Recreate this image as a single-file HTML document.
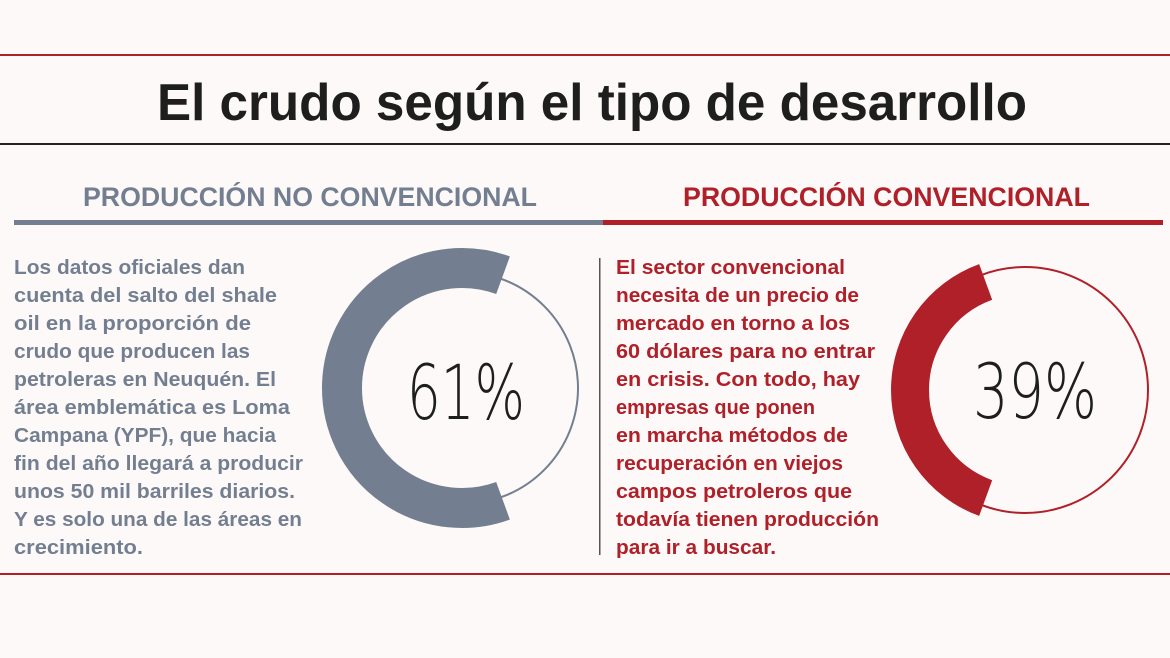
<!DOCTYPE html>
<html><head><meta charset="utf-8"><style>
html,body{margin:0;padding:0;background:#fcf9f8}
svg{display:block}
.b{font-family:"Liberation Sans",sans-serif;font-weight:bold;font-size:20px}
.g{fill:#737f90}.r{fill:#b02029}
</style></head><body>
<svg width="1170" height="658" viewBox="0 0 1170 658" xmlns="http://www.w3.org/2000/svg">
<rect width="1170" height="658" fill="#fcf9f8"/>
<rect x="0" y="54" width="1170" height="2" fill="#b02029"/>
<text x="157" y="120" font-family="Liberation Sans,sans-serif" font-weight="bold" font-size="52" fill="#1e1e1e" textLength="870" lengthAdjust="spacingAndGlyphs">El crudo según el tipo de desarrollo</text>
<rect x="0" y="143" width="1170" height="2" fill="#222"/>
<text x="83" y="206" font-family="Liberation Sans,sans-serif" font-weight="bold" font-size="27" fill="#737f90" textLength="454" lengthAdjust="spacingAndGlyphs">PRODUCCIÓN NO CONVENCIONAL</text>
<text x="683" y="206" font-family="Liberation Sans,sans-serif" font-weight="bold" font-size="27" fill="#b02029" textLength="407" lengthAdjust="spacingAndGlyphs">PRODUCCIÓN CONVENCIONAL</text>
<rect x="14" y="220" width="589" height="5" fill="#737f90"/>
<rect x="603" y="220" width="560" height="5" fill="#b02029"/>
<rect x="0" y="573" width="1170" height="2" fill="#b02029"/>
<rect x="599" y="258" width="1.5" height="297" fill="#555"/>
<g class="b g">
<text x="14" y="274" textLength="231" lengthAdjust="spacingAndGlyphs">Los datos oficiales dan</text>
<text x="14" y="302" textLength="263" lengthAdjust="spacingAndGlyphs">cuenta del salto del shale</text>
<text x="14" y="330" textLength="237" lengthAdjust="spacingAndGlyphs">oil en la proporción de</text>
<text x="14" y="358" textLength="236" lengthAdjust="spacingAndGlyphs">crudo que producen las</text>
<text x="14" y="386" textLength="262" lengthAdjust="spacingAndGlyphs">petroleras en Neuquén. El</text>
<text x="14" y="414" textLength="276" lengthAdjust="spacingAndGlyphs">área emblemática es Loma</text>
<text x="14" y="442" textLength="262" lengthAdjust="spacingAndGlyphs">Campana (YPF), que hacia</text>
<text x="14" y="470" textLength="289" lengthAdjust="spacingAndGlyphs">fin del año llegará a producir</text>
<text x="14" y="498" textLength="281" lengthAdjust="spacingAndGlyphs">unos 50 mil barriles diarios.</text>
<text x="14" y="526" textLength="288" lengthAdjust="spacingAndGlyphs">Y es solo una de las áreas en</text>
<text x="14" y="554" textLength="129" lengthAdjust="spacingAndGlyphs">crecimiento.</text>
</g>
<g class="b r">
<text x="616" y="274" textLength="229" lengthAdjust="spacingAndGlyphs">El sector convencional</text>
<text x="616" y="302" textLength="243" lengthAdjust="spacingAndGlyphs">necesita de un precio de</text>
<text x="616" y="330" textLength="234" lengthAdjust="spacingAndGlyphs">mercado en torno a los</text>
<text x="616" y="358" textLength="259" lengthAdjust="spacingAndGlyphs">60 dólares para no entrar</text>
<text x="616" y="386" textLength="244" lengthAdjust="spacingAndGlyphs">en crisis. Con todo, hay</text>
<text x="616" y="414" textLength="199" lengthAdjust="spacingAndGlyphs">empresas que ponen</text>
<text x="616" y="442" textLength="232" lengthAdjust="spacingAndGlyphs">en marcha métodos de</text>
<text x="616" y="470" textLength="227" lengthAdjust="spacingAndGlyphs">recuperación en viejos</text>
<text x="616" y="498" textLength="236" lengthAdjust="spacingAndGlyphs">campos petroleros que</text>
<text x="616" y="526" textLength="263" lengthAdjust="spacingAndGlyphs">todavía tienen producción</text>
<text x="616" y="554" textLength="160" lengthAdjust="spacingAndGlyphs">para ir a buscar.</text>
</g>
<circle cx="462" cy="388" r="116" fill="none" stroke="#737f90" stroke-width="2"/>
<path d="M 503.04 275.24 A 120 120 0 1 0 503.04 500.76" fill="none" stroke="#737f90" stroke-width="40"/>
<text x="466" y="419" text-anchor="middle" font-family="DejaVu Sans ExtraLight,DejaVu Sans,Liberation Sans,sans-serif" font-weight="200" font-size="76" fill="#1e1e1e" textLength="118" lengthAdjust="spacingAndGlyphs">61%</text>
<circle cx="1025" cy="390" r="123" fill="none" stroke="#b02029" stroke-width="2"/>
<path d="M 985.67 281.94 A 115 115 0 0 0 985.67 498.06" fill="none" stroke="#b02029" stroke-width="38"/>
<text x="1035" y="418" text-anchor="middle" font-family="DejaVu Sans ExtraLight,DejaVu Sans,Liberation Sans,sans-serif" font-weight="200" font-size="76" fill="#1e1e1e" textLength="124" lengthAdjust="spacingAndGlyphs">39%</text>
</svg>
</body></html>
